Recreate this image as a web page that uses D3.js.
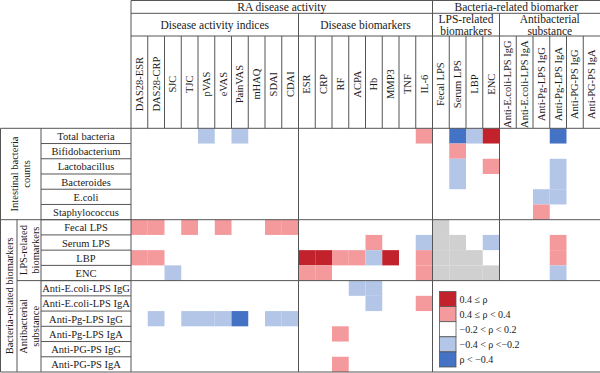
<!DOCTYPE html>
<html lang="en">
<head>
<meta charset="UTF-8">
<title>Correlation heatmap</title>
<script src="https://d3js.org/d3.v7.min.js"></script>
<style>
  body { margin: 0; background: #fff; }
  svg { display: block; font-family: "Liberation Serif", "DejaVu Serif", serif; }
</style>
</head>
<body>
<div id="chart"></div>
<script>
// columns (top axis)
const colLabels = ["DAS28-ESR", "DAS28-CRP", "SJC", "TJC", "pVAS", "eVAS", "PainVAS", "mHAQ", "SDAI", "CDAI",
  "ESR", "CRP", "RF", "ACPA", "Hb", "MMP3", "TNF", "IL-6",
  "Fecal LPS", "Serum LPS", "LBP", "ENC",
  "Anti-E.coli-LPS IgG", "Anti-E.coli-LPS IgA", "Anti-Pg-LPS IgG", "Anti-Pg-LPS IgA", "Anti-PG-PS IgG", "Anti-PG-PS IgA"];
const topGroups = ["RA disease activity", "Bacteria-related biomarker"];
const topSpans = [[0, 18], [18, 28]];
const subGroups = [["Disease activity indices"], ["Disease biomarkers"], ["LPS-related", "biomarkers"], ["Antibacterial", "substance"]];
const subSpans = [[0, 10], [10, 18], [18, 22], [22, 28]];

// rows (left axis)
const rowLabels = ["Total bacteria", "Bifidobacterium", "Lactobacillus", "Bacteroides", "E.coli", "Staphylococcus",
  "Fecal LPS", "Serum LPS", "LBP", "ENC",
  "Anti-E.coli-LPS IgG", "Anti-E.coli-LPS IgA", "Anti-Pg-LPS IgG", "Anti-Pg-LPS IgA", "Anti-PG-PS IgG", "Anti-PG-PS IgA"];
const rowGroups = [["Intestinal bacteria", "counts"], ["Bacteria-related biomarkers"]];
const rowGroupSpans = [[0, 6], [6, 16]];
const rowSubGroups = [["LPS-related", "biomarkers"], ["Antibacterial", "substance"]];
const rowSubSpans = [[6, 10], [10, 16]];

// correlation class per cell: 2 = rho>=0.4, 1 = 0.2..0.4, 0 = weak, -1 = -0.4..-0.2, -2 = rho<-0.4, "g" = not computed
const levels = [
  [0,0,0,0,-1,0,-1,0,0,0, 0,0,0,0,0,0,0,1, 0,-2,-1,2, 0,0,0,-2,0,0],
  [0,0,0,0,0,0,0,0,0,0, 0,0,0,0,0,0,0,0, 0,1,0,0, 0,0,0,0,0,0],
  [0,0,0,0,0,0,0,0,0,0, 0,0,0,0,0,0,0,0, 0,-1,0,1, 0,0,0,-1,0,0],
  [0,0,0,0,0,0,0,0,0,0, 0,0,0,0,0,0,0,0, 0,-1,0,0, 0,0,0,-1,0,0],
  [0,0,0,0,0,0,0,0,0,0, 0,0,0,0,0,0,0,0, 0,0,0,0, 0,0,-1,-1,0,0],
  [0,0,0,0,0,0,0,0,0,0, 0,0,0,0,0,0,0,0, 0,0,0,0, 0,0,1,0,0,0],
  [1,1,0,1,0,1,0,0,1,1, 0,0,0,0,0,0,0,0, "g",0,0,0, 0,0,0,0,0,0],
  [0,0,0,0,0,0,0,0,0,0, 0,0,0,0,1,0,0,-1, "g","g",0,-1, 0,0,0,1,0,0],
  [1,1,0,0,0,0,0,0,0,0, 2,2,1,1,-1,2,0,1, "g","g","g",0, 0,0,0,1,0,0],
  [0,0,-1,0,0,0,0,0,0,0, 1,1,0,0,0,0,0,1, "g","g","g","g", 0,0,0,-1,0,0],
  [0,0,0,0,0,0,0,0,0,0, 0,0,0,-1,-1,0,0,0, 0,0,0,0, 0,0,0,0,0,0],
  [0,0,0,0,0,0,0,0,0,0, 0,0,0,0,-1,0,0,1, 0,0,0,0, 0,0,0,0,0,0],
  [0,-1,0,-1,-1,-1,-2,0,-1,-1, 0,0,0,0,0,0,0,0, 0,0,0,0, 0,0,0,0,0,0],
  [0,0,0,0,0,0,0,0,0,0, 0,0,1,0,0,0,0,0, 0,0,0,0, 0,0,0,0,0,0],
  [0,0,0,0,0,0,0,0,0,0, 0,0,0,0,0,0,0,0, 0,0,0,0, 0,0,0,0,0,0],
  [0,0,0,0,0,0,0,0,0,0, 0,0,1,0,0,0,0,0, 0,0,0,0, 0,0,0,0,0,0]
];

// legend
const legendLevels = [2, 1, 0, -1, -2];
const legendLabels = ["0.4 \u2264 \u03c1", "0.4 \u2264 \u03c1 < 0.4", "\u22120.2 < \u03c1 < 0.2", "\u22120.4 < \u03c1 <\u22120.2", "\u03c1 < \u22120.4"];

const width = 600, height = 373;
const lineColor = "#555";

const svg = d3.select("#chart").append("svg")
    .attr("width", width)
    .attr("height", height);

// layout
const xLeft = 0.5, xSub = 17, xLab = 41, xData = 131, xRight = 600;
const yTop = 0.5, yH1 = 13.3, yH2 = 36, yData = 128.3, yBottom = 372;

const x = d3.scaleBand().domain(d3.range(colLabels.length)).range([xData, xRight]);
const y = d3.scaleBand().domain(d3.range(rowLabels.length)).range([yData, yBottom]);

const color = d3.scaleOrdinal()
    .domain([2, 1, 0, -1, -2, "g"])
    .range(["#c1222b", "#f4999c", "#ffffff", "#b4c6e7", "#4472c4", "#d0d0d0"]);

// cells
const cells = [];
levels.forEach((row, i) => row.forEach((v, j) => cells.push({ i, j, v })));
svg.append("g").selectAll("rect")
  .data(cells.filter(d => d.v !== 0))
  .join("rect")
    .attr("x", d => x(d.j))
    .attr("y", d => y(d.i))
    .attr("width", x.bandwidth())
    .attr("height", y.bandwidth())
    .attr("fill", d => color(d.v));

// grid lines
const lines = svg.append("g").attr("stroke", lineColor).attr("stroke-width", 1).attr("fill", "none");
function hline(y0, x0, x1) { lines.append("line").attr("x1", x0).attr("x2", x1).attr("y1", y0).attr("y2", y0); }
function vline(x0, y0, y1) { lines.append("line").attr("x1", x0).attr("x2", x0).attr("y1", y0).attr("y2", y1); }

hline(yTop, xData, xRight);
hline(yH1, xData, xRight);
hline(yH2, xData, xRight);
hline(yData, xLeft, xRight);
hline(yBottom, xLeft, xRight);
// row separators in label column
d3.range(1, rowLabels.length).forEach(i => hline(y(i), xLab, xData));
hline(y(rowGroupSpans[1][0]), xLeft, xRight);
hline(y(rowSubSpans[1][0]), xSub, xRight);

vline(xLeft, yData, yBottom);
vline(xSub, y(rowGroupSpans[1][0]), yBottom);
vline(xLab, yData, yBottom);
vline(xData, yTop, yBottom);
// column separators in header
d3.range(1, colLabels.length).forEach(j => vline(x(j), yH2, yData));
vline(x(topSpans[1][0]), yTop, yBottom);
vline(x(subSpans[1][0]), yH1, yBottom);
vline(x(subSpans[3][0]), yH1, y(rowSubSpans[1][0]));

// header text
const txt = svg.append("g").attr("fill", "#1a1a1a");
topGroups.forEach((t, k) => {
  const [a, b] = topSpans[k];
  const cx = (x(a) + (b < colLabels.length ? x(b) : xRight)) / 2;
  txt.append("text").attr("x", cx).attr("y", (yTop + yH1) / 2 + 0.5)
    .attr("text-anchor", "middle").attr("dominant-baseline", "central")
    .attr("font-size", 11.5).text(t);
});
subGroups.forEach((t, k) => {
  const [a, b] = subSpans[k];
  const cx = (x(a) + (b < colLabels.length ? x(b) : xRight)) / 2;
  const cy = (yH1 + yH2) / 2;
  t.forEach((line, n) => {
    txt.append("text").attr("x", cx).attr("y", cy + (n - (t.length - 1) / 2) * 11.5 + 0.5)
      .attr("text-anchor", "middle").attr("dominant-baseline", "central")
      .attr("font-size", 11.5).text(line);
  });
});
colLabels.forEach((t, j) => {
  txt.append("text")
    .attr("transform", `translate(${x(j) + x.bandwidth() / 2},${(yH2 + yData) / 2 + 2}) rotate(-90)`)
    .attr("text-anchor", "middle").attr("dominant-baseline", "central")
    .attr("font-size", 10.5).text(t);
});

// row labels
rowLabels.forEach((t, i) => {
  txt.append("text").attr("x", (xLab + xData) / 2).attr("y", y(i) + y.bandwidth() / 2 + 0.5)
    .attr("text-anchor", "middle").attr("dominant-baseline", "central")
    .attr("font-size", 10.5).text(t);
});

function vertLabel(t, cx, cy) {
  t.forEach((line, n) => {
    txt.append("text")
      .attr("transform", `translate(${cx + (n - (t.length - 1) / 2) * 12},${cy}) rotate(-90)`)
      .attr("text-anchor", "middle").attr("dominant-baseline", "central")
      .attr("font-size", 10.5).text(line);
  });
}
vertLabel(rowGroups[0], (xLeft + xLab) / 2, (y(0) + y(rowGroupSpans[0][1])) / 2);
vertLabel(rowGroups[1], (xLeft + xSub) / 2 + 0.5, (y(rowGroupSpans[1][0]) + yBottom) / 2);
rowSubGroups.forEach((t, k) => {
  const [a, b] = rowSubSpans[k];
  vertLabel(t, (xSub + xLab) / 2, (y(a) + (b < rowLabels.length ? y(b) : yBottom)) / 2);
});

// legend
const lg = svg.append("g").attr("transform", "translate(439.5,291.5)");
legendLevels.forEach((v, k) => {
  lg.append("rect").attr("x", 0).attr("y", k * 15.1).attr("width", 16.5).attr("height", 15.1)
    .attr("fill", color(v)).attr("stroke", "#555").attr("stroke-width", 0.8);
  lg.append("text").attr("x", 20).attr("y", k * 15.1 + 7.8)
    .attr("dominant-baseline", "central").attr("font-size", 10).attr("fill", "#1a1a1a")
    .text(legendLabels[k]);
});
</script>
</body>
</html>
